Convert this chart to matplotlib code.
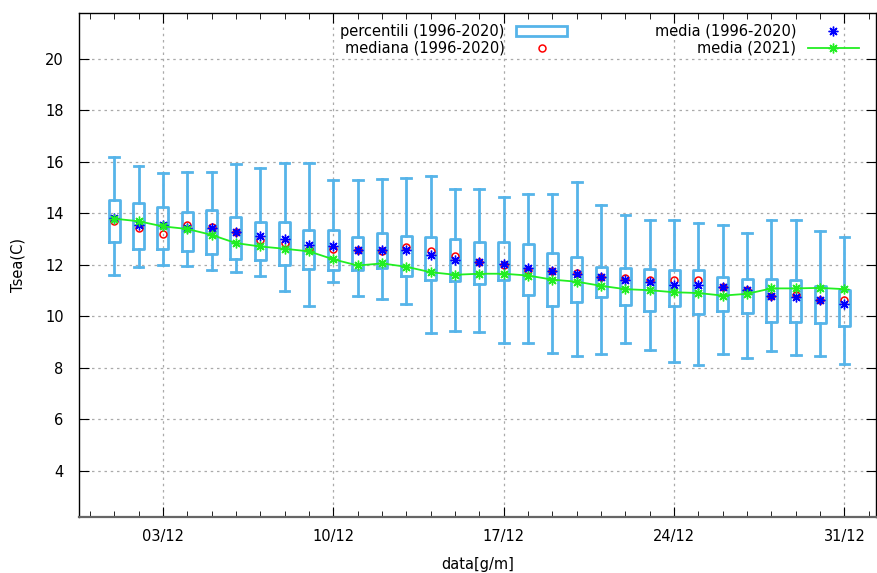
import numpy as np
import matplotlib
matplotlib.use("Agg")
import matplotlib.pyplot as plt
from matplotlib.patches import Rectangle
from matplotlib.lines import Line2D

days = np.arange(1, 32)
whi_hi = [16.17, 15.84, 15.55, 15.62, 15.62, 15.90, 15.75, 15.95, 15.95, 15.31, 15.31, 15.35, 15.39, 15.45, 14.95, 14.95,
          14.64, 14.74, 14.74, 15.22, 14.32, 13.95, 13.75, 13.72, 13.62, 13.53, 13.22, 13.75, 13.72, 13.30, 13.09]
q3 = [14.51, 14.40, 14.25, 14.04, 14.12, 13.84, 13.65, 13.65, 13.36, 13.36, 13.09, 13.23, 13.13, 13.08, 13.00, 12.87,
      12.87, 12.82, 12.47, 12.30, 11.93, 11.88, 11.84, 11.80, 11.80, 11.54, 11.45, 11.45, 11.41, 11.19, 11.02]
q1 = [12.88, 12.61, 12.61, 12.52, 12.42, 12.21, 12.17, 11.97, 11.82, 11.78, 11.78, 11.86, 11.58, 11.42, 11.36, 11.26,
      11.42, 10.81, 10.40, 10.57, 10.74, 10.44, 10.22, 10.39, 10.08, 10.22, 10.12, 9.77, 9.77, 9.72, 9.60]
whi_lo = [11.60, 11.91, 11.97, 11.94, 11.81, 11.71, 11.55, 10.96, 10.40, 11.32, 10.79, 10.66, 10.48, 9.34, 9.42, 9.38,
          8.97, 8.94, 8.58, 8.47, 8.54, 8.94, 8.67, 8.22, 8.11, 8.54, 8.37, 8.63, 8.50, 8.45, 8.15]
median = [13.69, 13.44, 13.21, 13.53, 13.47, 13.26, 12.97, 12.86, 12.62, 12.62, 12.56, 12.52, 12.69, 12.52, 12.35, 12.10,
          11.99, 11.78, 11.74, 11.68, 11.54, 11.48, 11.39, 11.39, 11.41, 11.13, 11.00, 10.77, 10.84, 10.64, 10.61]
mean = [13.80, 13.56, 13.53, 13.44, 13.44, 13.26, 13.12, 12.99, 12.78, 12.71, 12.58, 12.58, 12.58, 12.38, 12.19, 12.09,
        12.01, 11.88, 11.74, 11.65, 11.54, 11.41, 11.32, 11.23, 11.23, 11.13, 11.00, 10.80, 10.74, 10.64, 10.48]
mean2021 = [13.79, 13.69, 13.49, 13.39, 13.16, 12.84, 12.71, 12.62, 12.52, 12.21, 11.97, 12.05, 11.92, 11.71, 11.61, 11.65,
            11.65, 11.58, 11.42, 11.34, 11.18, 11.05, 11.01, 10.93, 10.90, 10.80, 10.87, 11.08, 11.08, 11.10, 11.05]
tick_days = [3, 10, 17, 24, 31]
tick_labels = ["03/12", "10/12", "17/12", "24/12", "31/12"]

boxc = "#56b4e9"
green = "#22ee22"

fig = plt.figure(figsize=(8.77, 5.73), dpi=100)
ax = fig.add_axes([0.090, 0.098, 0.909, 0.880])

stats = [dict(med=m, q1=a, q3=b, whislo=lo, whishi=hi)
         for m, a, b, lo, hi in zip(median, q1, q3, whi_lo, whi_hi)]
lp = dict(color=boxc, linewidth=2.0)
ax.bxp(stats, positions=days, widths=0.45, capwidths=0.4, showfliers=False,
       boxprops=lp, whiskerprops=lp, capprops=lp,
       medianprops=dict(linewidth=0), manage_ticks=False, zorder=3)

ax.plot(days, median, "o", mfc="none", mec="red", ms=5, mew=1.1, zorder=4)
ax.plot(days, mean, ls="none", marker=(8, 2, 0), color="blue", ms=7, mew=1.0, zorder=5)
ax.plot(days, mean2021, color=green, lw=1.3, marker=(8, 2, 0), ms=7, mew=1.0, zorder=6)

ax.set_xlim(-0.45, 32.3)
ax.set_ylim(2.2, 21.8)
ax.set_xticks(tick_days)
ax.set_xticklabels(tick_labels)
ax.set_xticks(np.arange(0, 33), minor=True)
ax.set_yticks(np.arange(4, 21, 2))
ax.tick_params(direction="in", which="major", length=7, top=True, right=True, labelsize=10.5)
ax.tick_params(axis="x", which="major", pad=9)
ax.tick_params(axis="y", which="major", pad=11)
ax.tick_params(direction="in", which="minor", length=4, top=True, right=False)
ax.tick_params(axis="y", which="minor", left=False, right=False)
ax.grid(True, which="major", ls=(0, (2, 3)), color="#aaaaaa", lw=0.9)
for s in ax.spines.values():
    s.set_linewidth(1.0)
ax.spines["bottom"].set_color("#666666")
ax.spines["bottom"].set_linewidth(1.6)

ax.set_xlabel("data[g/m]", fontsize=10.5, labelpad=9)
ax.set_ylabel("Tsea(C)", fontsize=10.5, labelpad=14)

h_box = Rectangle((0, 0), 1, 1, fc="none", ec=boxc, lw=2)
h_med = Line2D([], [], ls="none", marker="o", mfc="none", mec="red", ms=5, mew=1.1)
h_mean = Line2D([], [], ls="none", marker=(8, 2, 0), color="blue", ms=7, mew=1.0)
h_m21 = Line2D([], [], color=green, lw=1.3, marker=(8, 2, 0), ms=7, mew=1.0)
ax.legend([h_box, h_med, h_mean, h_m21],
          ["percentili (1996-2020)", "mediana (1996-2020)", "media (1996-2020)", "media (2021)"],
          ncol=2, markerfirst=False, frameon=False, loc="upper right",
          bbox_to_anchor=(0.995, 1.004), fontsize=10.5, handlelength=3.5,
          columnspacing=6.0, labelspacing=0.15, handletextpad=0.8)

fig.savefig("out.png", dpi=100)
